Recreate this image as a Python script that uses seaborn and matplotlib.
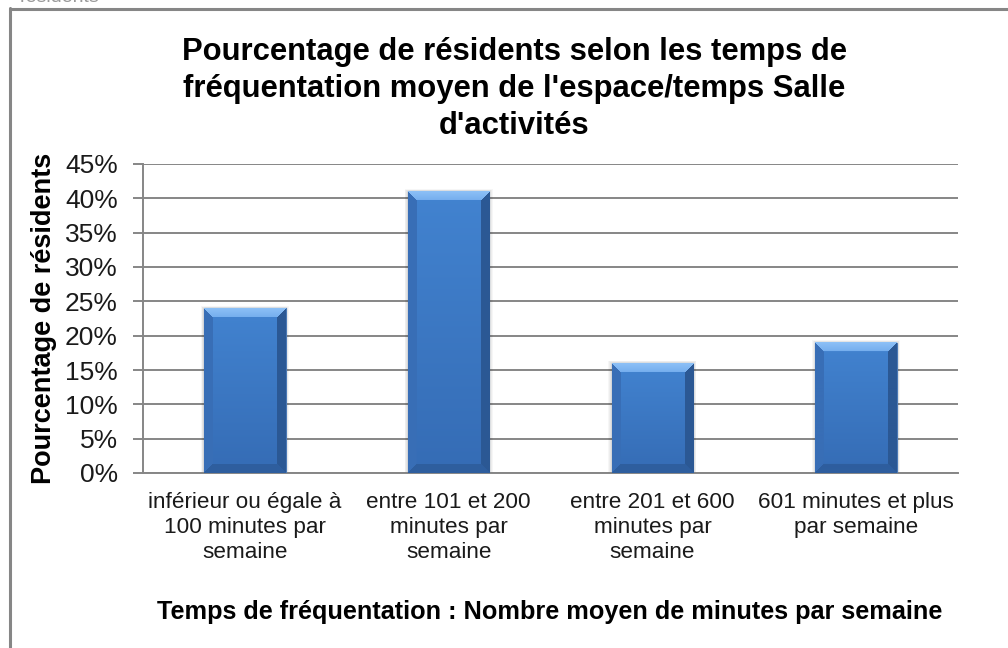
import numpy as np
import pandas as pd
import matplotlib
matplotlib.use("Agg")
import matplotlib.pyplot as plt
import seaborn as sns
from matplotlib.lines import Line2D
from matplotlib.colors import to_rgb
from matplotlib.ticker import FuncFormatter

# ---- data -------------------------------------------------------------
categories = [
    "inférieur ou égale à\n100 minutes par\nsemaine",
    "entre 101 et 200\nminutes par\nsemaine",
    "entre 201 et 600\nminutes par\nsemaine",
    "601 minutes et plus\npar semaine",
]
pourcentages = [0.24, 0.41, 0.16, 0.19]
y_ticks = [0, 0.05, 0.10, 0.15, 0.20, 0.25, 0.30, 0.35, 0.40, 0.45]

title = ("Pourcentage de résidents selon les temps de\n"
         "fréquentation moyen de l'espace/temps Salle\n"
         "d'activités")
x_label = "Temps de fréquentation : Nombre moyen de minutes par semaine"
y_label = "Pourcentage de résidents"

df = pd.DataFrame({"categorie": categories, "pourcentage": pourcentages})

# ---- style ------------------------------------------------------------
sns.set_theme(style="white")
plt.rcParams["font.family"] = ["Liberation Sans", "DejaVu Sans"]
GRID = "#868686"

W, H = 1008, 648
fig = plt.figure(figsize=(W / 100, H / 100), dpi=100)
ax = fig.add_axes([143 / W, 1 - 473 / H, (958 - 143) / W, (473 - 164) / H])

sns.barplot(data=df, x="categorie", y="pourcentage", ax=ax, width=0.4,
            color="#3D79C4", saturation=1, edgecolor="#4A78B4", linewidth=0.8,
            zorder=3)

ax.set_ylim(0, 0.45)
ax.set_xlim(-0.5, len(categories) - 0.5)
ax.set_yticks(y_ticks)
ax.yaxis.set_major_formatter(FuncFormatter(lambda v, _: f"{round(v * 100):d}%"))
ax.yaxis.grid(True, color=GRID, linewidth=1.4, zorder=0)
ax.set_axisbelow(True)

for side in ("top", "right"):
    ax.spines[side].set_visible(False)
for side in ("left", "bottom"):
    ax.spines[side].set_color(GRID)
    ax.spines[side].set_linewidth(1.4)

ax.tick_params(axis="y", which="major", length=7, width=1.4, color=GRID,
               direction="out", left=True, labelsize=19, labelcolor="#1a1a1a", pad=11)
ax.tick_params(axis="x", length=0, labelsize=16.2, labelcolor="#1a1a1a", pad=14)
for lab in ax.get_xticklabels():
    lab.set_linespacing(1.24)

ax.set_xlabel("")
ax.set_ylabel(y_label, fontsize=19.5, fontweight="bold", color="black", labelpad=6)
fig.text(550 / W, 1 - 612 / H, x_label, ha="center", va="center",
         fontsize=18.2, fontweight="bold", color="black")
fig.text(514 / W, 1 - 89 / H, title, ha="center", va="center",
         fontsize=22.3, fontweight="bold", color="black", linespacing=1.29)

# fragment of text above the frame
fig.text(20 / W, 1 - 1.5 / H, "résidents", ha="left", va="baseline",
         fontsize=14, color="#9a9a9a")

# ---- bevelled bar faces -----------------------------------------------
fig.canvas.draw()
c_top = np.array(to_rgb("#74ADEE"))
c_bot = np.array(to_rgb("#2E5E9E"))
c_left = np.array(to_rgb("#386EB6"))
c_right = np.array(to_rgb("#2B5894"))
c_body_t = np.array(to_rgb("#4283D0"))
c_body_b = np.array(to_rgb("#356CB5"))

for p in ax.patches:
    x0, y0 = p.get_x(), p.get_y()
    w, h = p.get_width(), p.get_height()
    (px0, py0), (px1, py1) = ax.transData.transform([(x0, y0), (x0 + w, y0 + h)])
    nw, nh = max(int(round(px1 - px0)), 2), max(int(round(py1 - py0)), 2)
    b = 9
    ii, jj = np.mgrid[0:nh, 0:nw]
    dt, db = ii, nh - 1 - ii
    dl, dr = jj, nw - 1 - jj
    d = np.stack([dt, db, dl, dr])
    m = d.min(axis=0)
    region = d.argmin(axis=0)
    frac = (ii / max(nh - 1, 1))[..., None]
    img = c_body_t * (1 - frac) + c_body_b * frac
    edge = m < b
    for k, col in enumerate([c_top, c_bot, c_left, c_right]):
        sel = edge & (region == k)
        img[sel] = col
    # slight light gradient inside the top bevel
    top_sel = edge & (region == 0)
    shade = (dt / b)[..., None]
    img = np.where(top_sel[..., None],
                   np.array(to_rgb("#8CC0F6")) * (1 - shade) + c_top * shade, img)
    # soft shadow behind the bar
    for k in range(1, 5):
        sx = 0.004 * k
        ax.add_patch(plt.Rectangle((x0 - sx, y0), w + 2 * sx, h + 0.0008 * k,
                                   facecolor="black", alpha=0.035, lw=0, zorder=2))
    ax.imshow(img, extent=(x0, x0 + w, y0, y0 + h), aspect="auto",
              interpolation="bilinear", zorder=4)

ax.set_xlim(-0.5, len(categories) - 0.5)
ax.set_ylim(0, 0.45)

# ---- outer frame ------------------------------------------------------
fig.add_artist(Line2D([9.5 / W, 9.5 / W], [0, 1 - 8 / H], transform=fig.transFigure,
                      color=GRID, linewidth=2.2))
fig.add_artist(Line2D([9.5 / W, 1], [1 - 8.5 / H, 1 - 8.5 / H], transform=fig.transFigure,
                      color=GRID, linewidth=2.2))

fig.savefig("out.png", dpi=100, facecolor="white")
